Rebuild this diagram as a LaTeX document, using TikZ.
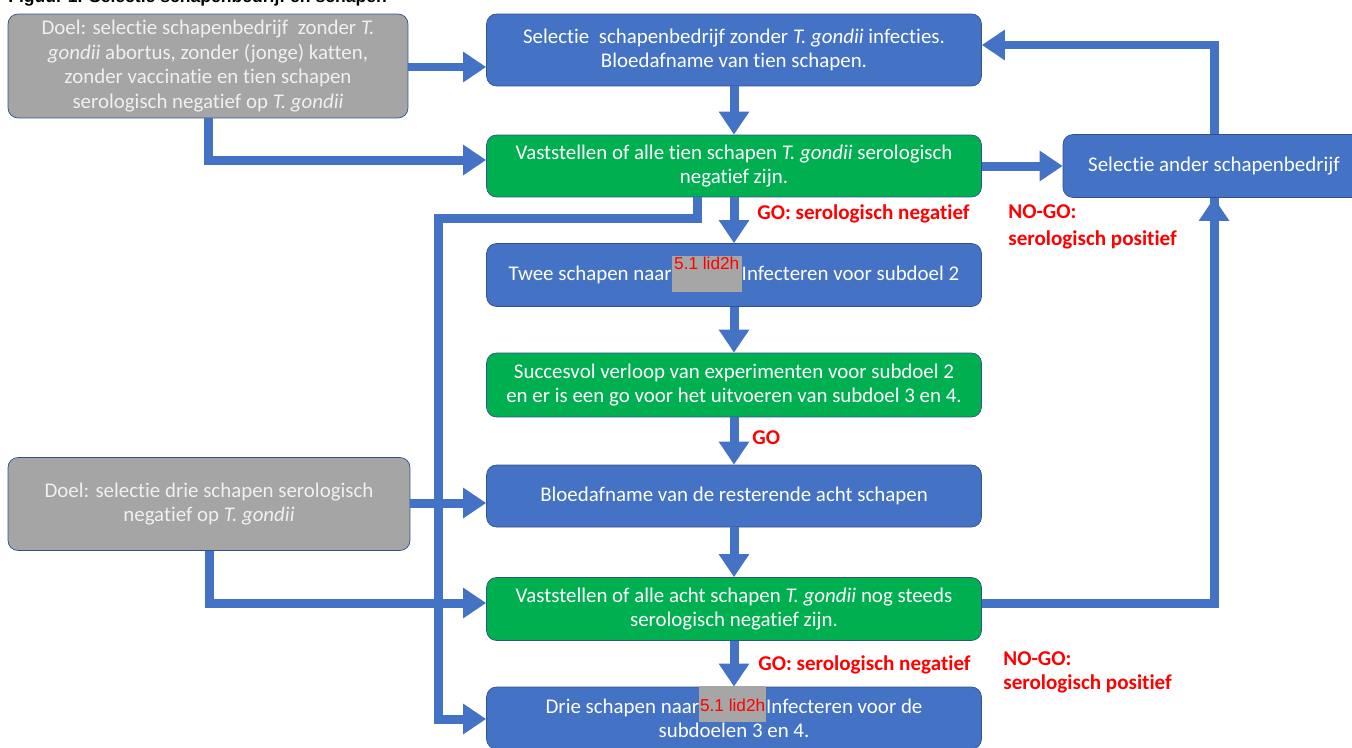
\documentclass[tikz,border=0pt]{standalone}
\usepackage{fontspec}
\setmainfont{Carlito}[Ligatures=NoCommon]
\newfontfamily\lidfont{Liberation Sans}
\usetikzlibrary{arrows.meta}
\definecolor{boxblue}{HTML}{4472C4}
\definecolor{boxgreen}{HTML}{00B050}
\definecolor{boxgrey}{HTML}{A5A5A5}
\definecolor{boxline}{HTML}{2F528F}
\definecolor{lidgrey}{HTML}{A6A6A6}
\tikzset{
    bluebox/.style={rectangle, rounded corners=0.2cm, draw=boxline, fill=boxblue, text=white,
        minimum width=9.9cm, minimum height=1.26cm, align=center, inner sep=0pt},
    greenbox/.style={bluebox, fill=boxgreen},
    greybox/.style={bluebox, fill=boxgrey, text=white!94!black, minimum width=8cm},
    flow/.style={draw=boxblue, line width=0.18cm, -{Triangle[length=0.46cm, width=0.58cm]}},
    golabel/.style={text=red, font=\bfseries\fontsize{12}{14}\selectfont, anchor=west,
        inner sep=0pt, align=left}
}
% grey block with red article number
\newcommand{\lidbox}[3]{\smash{\rlap{\color{lidgrey}\rule[-#2]{#1}{0.72cm}}%
  \makebox[#1]{\raisebox{#3}{\lidfont\fontsize{9.8}{10}\selectfont\color{red}5.1 lid2h}}}}

\begin{document}
\begin{tikzpicture}[x=0.02cm, y=-0.02cm, font=\fontsize{11.9}{13.5}\selectfont]
  \useasboundingbox (0,0) rectangle (1352,747);
  \clip (0,0) rectangle (1352,747);

  \node [anchor=base west, inner sep=0pt, font=\lidfont\bfseries\fontsize{10}{12}\selectfont] (titel) at (8,3)
    {Figuur 1. Selectie schapenbedrijf en schapen};

  % linker doelen
  \node [greybox, minimum height=2.08cm, font=\fontsize{11.9}{14}\selectfont] (doel1) at (208,66)
    {Doel: selectie schapenbedrijf\ \ zonder \textit{T.}\\ \textit{gondii} abortus, zonder (jonge) katten,\\
     zonder vaccinatie en tien schapen\\ serologisch negatief op \textit{T. gondii}};
  \node [greybox, minimum width=8.04cm, minimum height=1.86cm] (doel2) at (209,504)
    {Doel: selectie drie schapen serologisch\\ negatief op \textit{T. gondii}};

  % middenkolom
  \node [bluebox, minimum height=1.44cm] (sel) at (734,50)
    {Selectie\ \ schapenbedrijf zonder \textit{T. gondii} infecties.\\ Bloedafname van tien schapen.};
  \node [greenbox, minimum height=1.24cm] (vast1) at (734,166)
    {Vaststellen of alle tien schapen \textit{T. gondii} serologisch\\ negatief zijn.};
  \node [bluebox] (twee) at (734,275)
    {Twee schapen naar\lidbox{1.4cm}{0.22cm}{0.22cm}Infecteren voor subdoel 2};
  \node [greenbox, minimum height=1.28cm] (succes) at (734,385)
    {Succesvol verloop van experimenten voor subdoel 2\\ en er is een go voor het uitvoeren van subdoel 3 en 4.};
  \node [bluebox, minimum height=1.24cm] (bloed) at (734,496)
    {Bloedafname van de resterende acht schapen};
  \node [greenbox] (vast2) at (734,609)
    {Vaststellen of alle acht schapen \textit{T. gondii} nog steeds\\ serologisch negatief zijn.};
  \node [bluebox, minimum height=1.24cm] (drie) at (734,718)
    {Drie schapen naar\lidbox{1.34cm}{0.17cm}{0.04cm}Infecteren voor de\\ subdoelen 3 en 4.};

  % rechterkolom
  \node [bluebox, minimum width=6.04cm] (ander) at (1214,166) {Selectie ander schapenbedrijf};

  % labels
  \node [golabel] (go1) at (757,214) {GO: serologisch negatief};
  \node [golabel, font=\bfseries\fontsize{12}{15.3}\selectfont] (nogo1) at (1008,227)
    {NO-GO:\\ serologisch positief};
  \node [golabel] (go2) at (752,438) {GO};
  \node [golabel] (go3) at (758,665) {GO: serologisch negatief};
  \node [golabel, font=\bfseries\fontsize{12}{13.6}\selectfont] (nogo2) at (1003,672) {NO-GO:\\ serologisch positief};

  \coordinate (knik) at (438,218);

  % pijlen
  \draw [flow] (doel1.east |- 0,67) -- (sel.west |- 0,67);
  \draw [flow] (doel1.south) |- (vast1.west |- 0,160);
  \draw [flow] (sel) -- (vast1);
  \draw [flow] (vast1) -- (ander);
  \draw [flow] (ander.north) |- (sel.east |- 0,45);
  \draw [flow] (vast1) -- (twee);
  \draw [flow] (twee) -- (succes);
  \draw [flow] (succes) -- (bloed);
  \draw [flow] (bloed) -- (vast2);
  \draw [flow] (vast2) -- (drie);
  \draw [flow] (doel2.east |- 0,503) -- (bloed.west |- 0,503);
  \draw [flow] (doel2.south) |- (vast2.west |- 0,603);
  \draw [flow, -] (vast2.east |- 0,603) -| (ander.south);
  \draw [flow, -{Triangle[length=0.46cm, width=0.58cm]}] (ander.south |- 0,603) -- (ander.south);
  \draw [flow] (vast1.south -| 697,0) |- (knik) |- (drie.west |- 0,719);
\end{tikzpicture}
\end{document}
